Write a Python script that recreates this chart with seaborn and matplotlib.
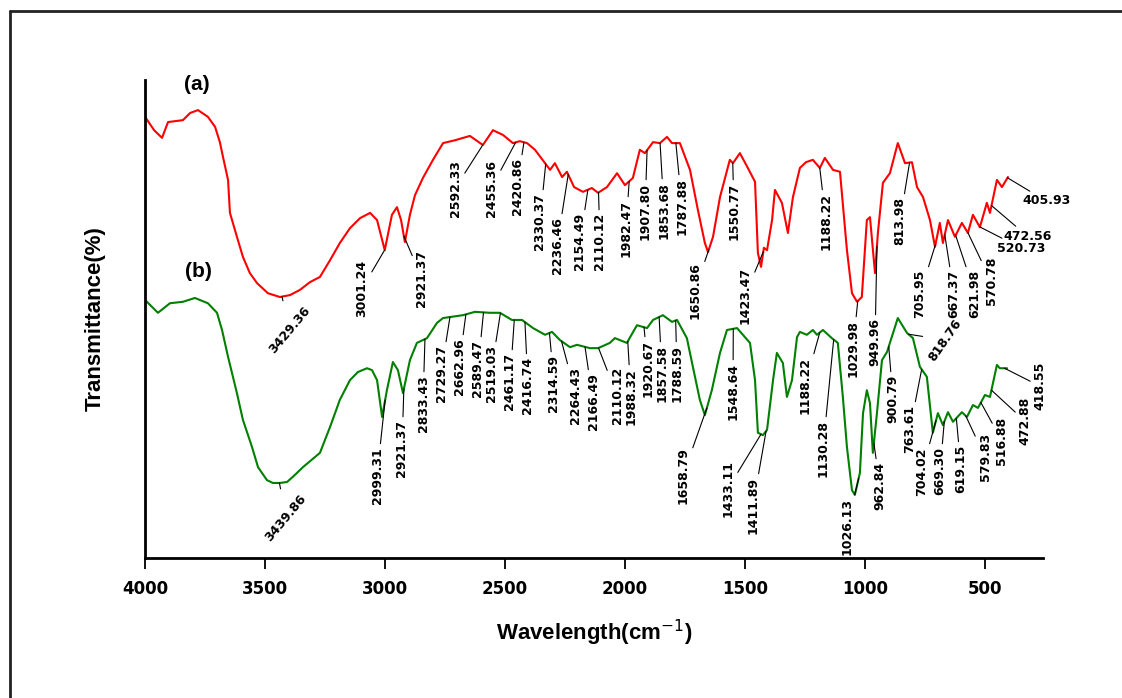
import matplotlib
matplotlib.use("Agg")
import matplotlib.pyplot as plt
from matplotlib import font_manager
from matplotlib.lines import Line2D
import seaborn as sns
import numpy as np
import pandas as pd

# Espectro (a) - vermelho
wn_a = [4000, 3962, 3929, 3904, 3842, 3812, 3779, 3738, 3708, 3688,
        3675, 3654, 3646, 3617, 3592, 3563, 3533, 3488, 3438, 3396,
        3354, 3313, 3271, 3229, 3188, 3146, 3104, 3062, 3033, 3001,
        2971, 2950, 2933, 2917, 2896, 2875, 2842, 2800, 2758, 2708,
        2646, 2592, 2550, 2508, 2467, 2438, 2408, 2375, 2312, 2292,
        2262, 2242, 2212, 2175, 2138, 2112, 2075, 2033, 2000, 1967,
        1938, 1917, 1883, 1854, 1825, 1804, 1771, 1729, 1696, 1667,
        1654, 1633, 1604, 1563, 1550, 1521, 1488, 1458, 1446, 1433,
        1421, 1408, 1387, 1375, 1346, 1321, 1300, 1271, 1246, 1217,
        1188, 1167, 1133, 1104, 1075, 1054, 1033, 1013, 992, 979,
        958, 946, 925, 896, 863, 833, 804, 783, 758, 729,
        708, 688, 675, 654, 625, 596, 571, 550, 521, 492,
        479, 450, 429, 404]
t_a = [92.3, 89.5, 87.9, 91.2, 91.6, 93.1, 93.7, 92.3, 90.2, 87.0,
       83.9, 79.1, 72.2, 67.2, 63.0, 59.6, 57.5, 55.4, 54.6, 55.0,
       56.1, 57.7, 58.8, 62.3, 65.9, 69.0, 71.1, 72.2, 70.7, 64.4,
       71.8, 73.4, 70.7, 66.1, 71.8, 75.9, 79.5, 83.3, 86.8, 87.4,
       88.3, 86.4, 89.5, 88.5, 86.8, 87.2, 86.8, 85.4, 81.2, 82.6,
       79.7, 80.8, 77.6, 76.6, 77.4, 76.4, 77.6, 80.5, 78.0, 79.5,
       85.4, 84.7, 87.0, 86.8, 88.1, 86.8, 86.8, 81.2, 72.8, 65.9,
       64.0, 67.2, 75.5, 83.3, 82.6, 84.7, 81.6, 78.7, 63.8, 60.9,
       64.9, 64.4, 70.7, 77.0, 74.3, 68.0, 75.5, 81.6, 82.8, 83.3,
       81.6, 83.7, 81.2, 80.8, 64.4, 55.4, 53.6, 54.6, 70.7, 71.3,
       59.6, 68.0, 78.5, 80.5, 86.8, 82.6, 82.8, 77.6, 75.5, 70.7,
       65.1, 70.1, 65.9, 70.7, 67.2, 70.1, 68.0, 71.8, 69.2, 74.3,
       72.2, 79.1, 77.6, 79.7]

# Espectro (b) - verde
wn_b = [4000, 3946, 3896, 3842, 3792, 3738, 3700, 3679, 3654, 3617,
        3592, 3554, 3529, 3492, 3467, 3438, 3408, 3375, 3342, 3271,
        3229, 3188, 3146, 3113, 3075, 3054, 3033, 3012, 2992, 2967,
        2946, 2925, 2896, 2867, 2825, 2783, 2758, 2675, 2625, 2563,
        2521, 2471, 2429, 2383, 2333, 2304, 2271, 2229, 2200, 2146,
        2112, 2063, 2042, 1992, 1950, 1908, 1883, 1842, 1804, 1783,
        1742, 1717, 1688, 1667, 1638, 1604, 1575, 1533, 1479, 1458,
        1446, 1425, 1408, 1383, 1367, 1342, 1325, 1304, 1283, 1271,
        1242, 1217, 1200, 1175, 1138, 1113, 1092, 1075, 1054, 1042,
        1021, 1008, 992, 979, 967, 950, 929, 908, 863, 825,
        800, 771, 742, 717, 696, 675, 654, 633, 596, 575,
        550, 529, 500, 479, 450, 438, 408]
t_b = [54.0, 51.3, 53.3, 53.6, 54.4, 53.3, 51.3, 47.7, 42.1, 34.5,
       28.9, 23.2, 19.0, 16.3, 15.7, 15.7, 15.9, 17.4, 19.0, 22.0,
       27.4, 33.1, 37.2, 38.9, 39.7, 39.3, 37.2, 29.5, 35.1, 41.0,
       39.3, 34.5, 41.4, 45.0, 46.0, 49.2, 50.2, 50.8, 51.5, 51.3,
       51.3, 49.8, 49.8, 48.1, 46.7, 47.3, 45.6, 44.1, 44.6, 43.9,
       43.9, 45.0, 46.0, 45.0, 48.7, 48.1, 49.8, 50.8, 49.4, 49.8,
       46.0, 40.0, 33.1, 29.9, 35.1, 42.9, 47.7, 48.1, 45.0, 37.2,
       26.2, 25.7, 26.8, 37.2, 42.9, 40.8, 33.7, 37.2, 46.2, 47.3,
       46.7, 47.7, 46.7, 47.7, 46.0, 45.0, 33.7, 23.2, 14.2, 13.2,
       17.8, 30.3, 35.1, 32.4, 22.0, 30.3, 41.4, 43.1, 50.2, 47.1,
       46.0, 40.0, 37.9, 26.2, 30.3, 27.8, 30.5, 28.5, 30.5, 29.5,
       32.0, 31.4, 34.1, 33.7, 40.4, 39.7, 39.7]

# Picos marcados
picos_a = ["3429.36", "3001.24", "2921.37", "2592.33", "2455.36", "2420.86",
           "2330.37", "2236.46", "2154.49", "2110.12", "1982.47", "1907.80",
           "1853.68", "1787.88", "1650.86", "1550.77", "1423.47", "1188.22",
           "1029.98", "949.96", "813.98", "705.95", "667.37", "621.98",
           "570.78", "520.73", "472.56", "405.93"]
picos_b = ["3439.86", "2999.31", "2921.37", "2833.43", "2729.27", "2662.96",
           "2589.47", "2519.03", "2461.17", "2416.74", "2314.59", "2264.43",
           "2166.49", "2110.12", "1988.32", "1920.67", "1857.58", "1788.59",
           "1658.79", "1548.64", "1433.11", "1411.89", "1188.22", "1130.28",
           "1026.13", "962.84", "900.79", "818.76", "763.61", "704.02",
           "669.30", "619.15", "579.83", "516.88", "472.88", "418.55"]

# posicao do texto (pixels a partir do canto do eixo) e rotacao
pos_a = [(145, 228, 50), (217, 298, 90), (277, 308, 90), (310, 398, 90),
         (346, 398, 90), (372, 400, 90), (395, 365, 90), (412, 341, 90),
         (435, 345, 90), (455, 345, 90), (481, 358, 90), (500, 375, 90),
         (519, 376, 90), (537, 380, 90), (550, 296, 90), (589, 375, 90),
         (600, 291, 90), (681, 365, 90), (708, 238, 90), (730, 240, 90),
         (755, 361, 90), (775, 288, 90), (809, 288, 90), (830, 288, 90),
         (846, 301, 90), (852, 310, 0), (858, 322, 0), (877, 357, 0)]
pos_b = [(141, 40, 50), (232, 111, 90), (257, 138, 90), (278, 183, 90),
         (296, 213, 90), (314, 220, 90), (333, 218, 90), (346, 213, 90),
         (365, 205, 90), (383, 201, 90), (409, 203, 90), (431, 191, 90),
         (448, 185, 90), (472, 191, 90), (486, 190, 90), (503, 218, 90),
         (517, 213, 90), (532, 213, 90), (538, 111, 90), (588, 195, 90),
         (583, 98, 90), (608, 81, 90), (660, 201, 90), (678, 138, 90),
         (702, 60, 90), (735, 96, 90), (748, 183, 90), (800, 218, 55),
         (765, 153, 90), (777, 111, 90), (795, 111, 90), (816, 113, 90),
         (840, 125, 90), (857, 141, 90), (880, 161, 90), (895, 196, 90)]

sns.set_style("white")
nomes = {f.name for f in font_manager.fontManager.ttflist}
estreita = "Liberation Sans Narrow" if "Liberation Sans Narrow" in nomes else "DejaVu Sans"
plt.rcParams["font.family"] = ["Liberation Sans", "DejaVu Sans"]
plt.rcParams["text.color"] = "black"
plt.rcParams["axes.labelcolor"] = "black"
plt.rcParams["xtick.color"] = "black"

df = pd.concat([
    pd.DataFrame({"wn": wn_a, "T": t_a, "amostra": "a"}),
    pd.DataFrame({"wn": wn_b, "T": t_b, "amostra": "b"}),
])

fig = plt.figure(figsize=(11.22, 6.98), dpi=100)
ax = fig.add_axes([145 / 1122, 140 / 698, 898 / 1122, 478 / 698])

sns.lineplot(data=df, x="wn", y="T", hue="amostra", palette={"a": "#ff0000", "b": "#008000"},
             estimator=None, legend=False, linewidth=1.5, ax=ax)

ax.set_xlim(4000, 258)
ax.set_ylim(0, 100)
ax.set_xticks([4000, 3500, 3000, 2500, 2000, 1500, 1000, 500])
ax.set_yticks([])
ax.tick_params(axis="x", direction="out", length=8, width=1.3, bottom=True, pad=8,
               colors="black")
for lab in ax.get_xticklabels():
    lab.set_fontfamily(estreita)
    lab.set_fontweight("bold")
    lab.set_fontsize(12)
for s in ["top", "right"]:
    ax.spines[s].set_visible(False)
for s in ["left", "bottom"]:
    ax.spines[s].set_linewidth(2)
    ax.spines[s].set_color("black")

ax.set_xlabel("Wavelength(cm$^{-1}$)", fontsize=16, fontweight="bold", labelpad=14,
              color="black")
ax.set_ylabel("Transmittance(%)", fontsize=16, fontweight="bold", labelpad=28,
              color="black")

ax.text(0.058, 0.99, "(a)", transform=ax.transAxes, fontsize=15, fontweight="bold",
        ha="center", va="center", color="black")
ax.text(0.06, 0.60, "(b)", transform=ax.transAxes, fontsize=15, fontweight="bold",
        ha="center", va="center", color="black")


def marca(wn, t, picos, posicoes):
    x = np.array(wn)[::-1]
    y = np.array(t)[::-1]
    for rot, (tx, ty, ang) in zip(picos, posicoes):
        p = float(rot)
        if ang == 90:
            ha, va = "center", "top"
        elif ang == 0:
            ha, va = "left", "center"
        else:
            ha, va = "center", "center"
        ax.annotate(rot, xy=(p, np.interp(p, x, y)), xytext=(tx, ty),
                    textcoords="axes pixels", rotation=ang, ha=ha, va=va,
                    fontsize=9, fontweight="bold", fontfamily=estreita, color="black",
                    arrowprops=dict(arrowstyle="-", color="black", lw=0.8,
                                    shrinkA=0, shrinkB=0))


marca(wn_a, t_a, picos_a, pos_a)
marca(wn_b, t_b, picos_b, pos_b)

# moldura externa
fig.add_artist(Line2D([10 / 1122, 1], [1 - 11 / 698, 1 - 11 / 698], color="#222222", lw=2))
fig.add_artist(Line2D([10 / 1122, 10 / 1122], [0, 1 - 11 / 698], color="#222222", lw=2))

fig.savefig("out.png", dpi=100)
